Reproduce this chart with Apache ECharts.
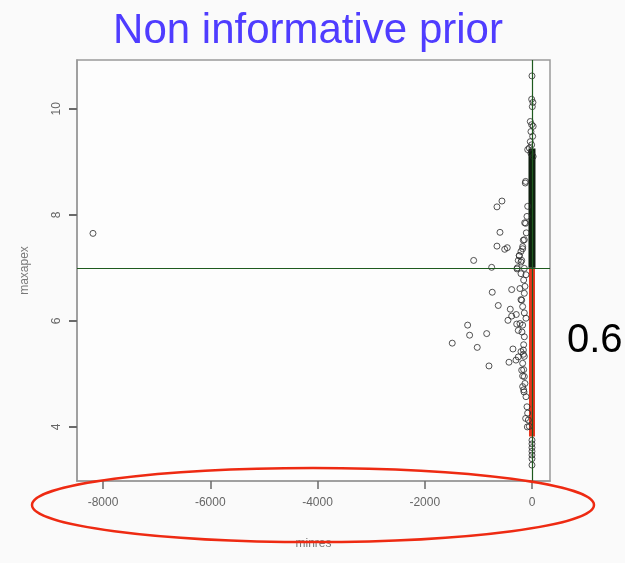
<!DOCTYPE html>
<html>
<head>
<meta charset="utf-8">
<script src="https://cdn.jsdelivr.net/npm/echarts@6/dist/echarts.min.js"></script>
<style>
  html, body { margin: 0; padding: 0; background: #fafafa; }
  #chart { width: 625px; height: 563px; }
</style>
</head>
<body>
<div id="chart"></div>
<script>
// minres vs maxapex, with cut lines at minres = 0 and maxapex = 7
const xTicks = [-8000, -6000, -4000, -2000, 0];
const yTicks = [4, 6, 8, 10];
const xRange = [-8485, 336];
const yRange = [2.98, 10.92];
const cutX = 0;
const cutY = 7;
const shareLabel = '0.6';

// isolated draws away from zero
const spreadPoints = [
  [-8187, 7.65],
  [-560, 8.26], [-653, 8.15], [-597, 7.67], [-653, 7.41], [-509, 7.35], [-461, 7.38],
  [-1088, 7.14], [-752, 7.01],
  [-741, 6.54], [-379, 6.59], [-629, 6.29], [-405, 6.22], [-379, 6.09], [-448, 6.01],
  [-293, 6.12], [-285, 5.94], [-256, 5.82],
  [-1200, 5.92], [-1163, 5.73], [-845, 5.76], [-1487, 5.58], [-1021, 5.50], [-802, 5.15],
  [-355, 5.47], [-429, 5.22], [-299, 5.26], [-256, 5.32], [-192, 5.07], [-174, 4.96],
  [-125, 8.60], [-136, 7.85], [-174, 7.36], [-237, 7.23], [-192, 7.14], [-280, 6.98],
  [-224, 6.61], [-192, 6.39], [-274, 7.00], [-205, 6.89], [-256, 7.14], [-205, 7.11],
  [-162, 7.52], [-224, 5.95], [-187, 5.79], [-174, 4.76], [-149, 4.66], [-118, 4.16],
  [-87, 4.00], [-160, 5.45], [-160, 5.37]
];

// draws hugging the zero line
const nearZeroPoints = [
  [0, 10.62], [-6, 10.18], [18, 10.12], [6, 10.04],
  [-32, 9.76], [-6, 9.70], [22, 9.67], [-19, 9.57], [13, 9.48], [-32, 9.38],
  [-6, 9.32], [-50, 9.26], [-80, 9.23], [-19, 9.16], [22, 9.10],
  [-118, 8.63], [-80, 8.16], [-93, 7.97], [-106, 7.66], [-118, 7.84],
  [-143, 7.53], [-174, 7.40], [-205, 7.31], [-237, 7.23],
  [-143, 6.99], [-112, 6.87], [-155, 6.77], [-131, 6.65], [-143, 6.52], [-205, 6.40],
  [-174, 6.27], [-143, 6.15], [-112, 6.05], [-174, 5.92], [-143, 5.70], [-155, 5.55],
  [-205, 5.42], [-143, 5.33], [-174, 5.20], [-155, 5.08], [-143, 4.95], [-131, 4.82],
  [-155, 4.70], [-112, 4.57], [-93, 4.38], [-81, 4.26], [-68, 4.13], [-50, 4.01],
  [0, 3.75], [0, 3.68], [0, 3.61], [0, 3.54], [0, 3.47], [0, 3.40], [0, 3.28]
];

// solid runs where the draws pile up on top of each other
const denseAbove = [[0, 7.0], [0, 9.25]];
const denseBelow = [[0, 7.0], [0, 3.82]];

const chart = echarts.init(document.getElementById('chart'), null, { renderer: 'canvas' });

const axisFont = 'Liberation Sans, Arial, sans-serif';
const frameColor = '#9a9a9a';
const tickColor = '#6a6a6a';
const circleStyle = { color: 'rgba(0,0,0,0)', borderColor: '#2a2a2a', borderWidth: 1 };
const plainNumber = v => String(v);

chart.setOption({
  backgroundColor: '#fafafa',
  animation: false,
  title: {
    text: 'Non informative prior',
    left: 303,
    textAlign: 'center',
    top: 5,
    textStyle: { color: '#4f3cff', fontSize: 42, fontWeight: 'normal', fontFamily: axisFont }
  },
  grid: {
    left: 77, top: 60, width: 473, height: 421,
    show: true, backgroundColor: '#fdfdfd', borderColor: frameColor, borderWidth: 1.5
  },
  xAxis: {
    type: 'value',
    min: xRange[0], max: xRange[1],
    name: 'minres', nameLocation: 'middle', nameGap: 57,
    nameTextStyle: { color: '#777', fontSize: 12, fontFamily: axisFont },
    splitLine: { show: false },
    axisLine: { show: true, onZero: false, lineStyle: { color: frameColor, width: 1.5 } },
    axisTick: { show: true, customValues: xTicks, length: 8, lineStyle: { color: tickColor, width: 1.5 } },
    axisLabel: { customValues: xTicks, formatter: plainNumber, color: '#666', fontSize: 12, margin: 16, fontFamily: axisFont }
  },
  yAxis: {
    type: 'value',
    min: yRange[0], max: yRange[1],
    name: 'maxapex', nameLocation: 'middle', nameGap: 46, nameRotate: 90,
    nameTextStyle: { color: '#777', fontSize: 12, fontFamily: axisFont },
    splitLine: { show: false },
    axisLine: { show: true, onZero: false, lineStyle: { color: frameColor, width: 1.5 } },
    axisTick: { show: true, customValues: yTicks, length: 8, lineStyle: { color: tickColor, width: 2 } },
    axisLabel: { customValues: yTicks, rotate: 90, color: '#666', fontSize: 12, margin: 14, fontFamily: axisFont }
  },
  series: [
    {
      name: 'cuts', type: 'line', data: [], z: 1, silent: true,
      markLine: {
        symbol: 'none', silent: true, label: { show: false },
        lineStyle: { color: '#1e5a1e', width: 1.2, type: 'solid' },
        data: [{ xAxis: cutX }, { yAxis: cutY }]
      }
    },
    {
      name: 'dense below', type: 'line', data: denseBelow, z: 2, showSymbol: false, silent: true,
      lineStyle: { color: '#e6341c', width: 6, cap: 'butt' }
    },
    {
      name: 'dense above', type: 'line', data: denseAbove, z: 2, showSymbol: false, silent: true,
      lineStyle: { color: '#0e1e0e', width: 7, cap: 'butt' }
    },
    {
      name: 'spread', type: 'scatter', data: spreadPoints, z: 3,
      symbol: 'circle', symbolSize: 6, itemStyle: circleStyle
    },
    {
      name: 'near zero', type: 'scatter', data: nearZeroPoints, z: 3,
      symbol: 'circle', symbolSize: 6, itemStyle: circleStyle
    }
  ],
  graphic: [
    {
      type: 'text', left: 567, top: 321, z: 10,
      style: { text: shareLabel, fill: '#000', fontSize: 40, fontFamily: axisFont }
    },
    {
      type: 'ellipse', z: 20, silent: true,
      shape: { cx: 313, cy: 505, rx: 281, ry: 37 },
      style: { fill: 'none', stroke: '#ee2a12', lineWidth: 2.5 }
    }
  ]
});
</script>
</body>
</html>
